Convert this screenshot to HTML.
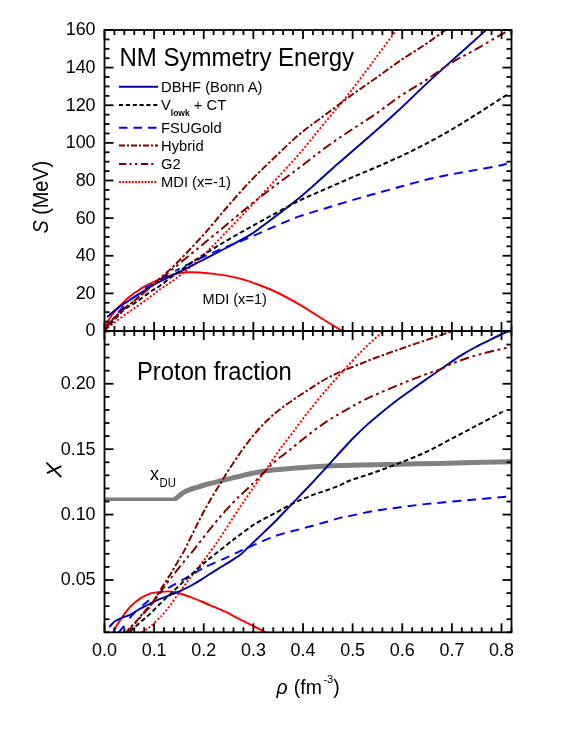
<!DOCTYPE html>
<html><head><meta charset="utf-8"><title>chart</title>
<style>
html,body{margin:0;padding:0;background:#fff;}
body{width:581px;height:753px;overflow:hidden;}
svg{display:block;}
text{font-family:"Liberation Sans",sans-serif;fill:#000;}
.tk{font-size:17.95px;}
.lg{font-size:14.75px;}
.ttl{font-size:24px;}
.ax{font-size:19px;}
</style></head><body>
<svg width="581" height="753" viewBox="0 0 581 753" style="will-change:transform;opacity:0.999">
<rect x="0" y="0" width="581" height="753" fill="#fff"/>
<defs>
<clipPath id="ct"><rect x="104.5" y="30" width="407" height="301"/></clipPath>
<clipPath id="cb"><rect x="104.5" y="331" width="407" height="301.3"/></clipPath>
</defs>
<g clip-path="url(#ct)">
<path d="M104.20 333.00 C104.27 332.45 104.02 331.53 104.60 329.70 C105.18 327.87 106.47 324.50 107.70 322.00 C108.93 319.50 110.18 317.20 112.00 314.70 C113.82 312.20 116.43 309.32 118.60 307.00 C120.77 304.68 122.93 302.70 125.00 300.80 C127.07 298.90 128.92 297.23 131.00 295.60 C133.08 293.97 135.43 292.40 137.50 291.00 C139.57 289.60 141.32 288.42 143.40 287.20 C145.48 285.98 147.23 285.05 150.00 283.70 C152.77 282.35 155.83 280.73 160.00 279.10 C164.17 277.47 170.50 275.03 175.00 273.90 C179.50 272.77 182.83 272.53 187.00 272.30 C191.17 272.07 195.83 272.28 200.00 272.50 C204.17 272.72 207.83 273.12 212.00 273.60 C216.17 274.08 220.33 274.57 225.00 275.40 C229.67 276.23 235.83 277.55 240.00 278.60 C244.17 279.65 244.17 279.55 250.00 281.70 C255.83 283.85 266.67 287.65 275.00 291.50 C283.33 295.35 291.67 299.97 300.00 304.80 C308.33 309.63 317.97 316.13 325.00 320.50 C332.03 324.87 338.03 328.42 342.20 331.00 C346.37 333.58 348.70 335.17 350.00 336.00" fill="none" stroke="#ff0000" stroke-width="1.95" stroke-linejoin="round"/>
<path d="M104.60 330.20 C105.83 329.25 108.60 327.08 112.00 324.50 C115.40 321.92 120.75 317.78 125.00 314.70 C129.25 311.62 133.33 308.95 137.50 306.00 C141.67 303.05 146.25 299.77 150.00 297.00 C153.75 294.23 155.83 292.37 160.00 289.40 C164.17 286.43 168.33 284.37 175.00 279.20 C181.67 274.03 191.67 266.03 200.00 258.40 C208.33 250.77 216.67 241.97 225.00 233.40 C233.33 224.83 241.67 215.82 250.00 207.00 C258.33 198.18 266.67 189.50 275.00 180.50 C283.33 171.50 291.67 162.67 300.00 153.00 C308.33 143.33 316.67 132.62 325.00 122.50 C333.33 112.38 341.67 102.90 350.00 92.30 C358.33 81.70 367.27 69.28 375.00 58.90 C382.73 48.52 391.57 36.48 396.40 30.00 C401.23 23.52 402.73 21.67 404.00 20.00" fill="none" stroke="#ff0000" stroke-width="1.95" stroke-dasharray="2.1 1.9" stroke-linejoin="round"/>
<path d="M107.00 317.10 C107.83 316.37 110.07 314.30 112.00 312.70 C113.93 311.10 116.43 309.10 118.60 307.50 C120.77 305.90 122.93 304.48 125.00 303.10 C127.07 301.72 128.92 300.53 131.00 299.20 C133.08 297.87 135.43 296.42 137.50 295.10 C139.57 293.78 141.32 292.68 143.40 291.30 C145.48 289.92 147.23 288.43 150.00 286.80 C152.77 285.17 155.83 283.62 160.00 281.50 C164.17 279.38 168.33 277.43 175.00 274.10 C181.67 270.77 191.67 265.77 200.00 261.50 C208.33 257.23 216.67 252.95 225.00 248.50 C233.33 244.05 243.75 238.55 250.00 234.80 C256.25 231.05 258.33 229.03 262.50 226.00 C266.67 222.97 270.83 219.73 275.00 216.60 C279.17 213.47 283.33 210.43 287.50 207.20 C291.67 203.97 295.83 200.67 300.00 197.20 C304.17 193.73 308.33 190.07 312.50 186.40 C316.67 182.73 320.83 178.93 325.00 175.20 C329.17 171.47 333.33 167.65 337.50 164.00 C341.67 160.35 343.75 158.70 350.00 153.30 C356.25 147.90 366.67 138.98 375.00 131.60 C383.33 124.22 391.67 116.75 400.00 109.00 C408.33 101.25 416.67 92.87 425.00 85.10 C433.33 77.33 441.67 69.92 450.00 62.40 C458.33 54.88 469.00 45.40 475.00 40.00 C481.00 34.60 482.33 33.33 486.00 30.00 C489.67 26.67 495.17 21.67 497.00 20.00" fill="none" stroke="#0000a0" stroke-width="1.95" stroke-linejoin="round"/>
<path d="M105.20 327.60 C106.05 326.75 108.58 324.47 110.30 322.50 C112.02 320.53 113.52 318.22 115.50 315.80 C117.48 313.38 119.88 310.58 122.20 308.00 C124.52 305.42 127.17 302.28 129.40 300.30 C131.63 298.32 133.10 298.00 135.60 296.10 C138.10 294.20 141.73 290.78 144.40 288.90 C147.07 287.02 146.50 287.78 151.60 284.80 C156.70 281.82 171.10 273.30 175.00 271.00" fill="none" stroke="#0000ff" stroke-width="1.95" stroke-dasharray="8.5 9.5" stroke-dashoffset="-1.9" stroke-linejoin="round"/>
<path d="M506.90 163.50 C505.75 163.83 505.32 164.40 500.00 165.50 C494.68 166.60 483.33 168.58 475.00 170.10 C466.67 171.62 458.33 172.95 450.00 174.60 C441.67 176.25 433.33 177.97 425.00 180.00 C416.67 182.03 408.33 184.52 400.00 186.80 C391.67 189.08 383.33 191.37 375.00 193.70 C366.67 196.03 358.33 198.33 350.00 200.80 C341.67 203.27 333.33 205.93 325.00 208.50 C316.67 211.07 308.33 213.23 300.00 216.20 C291.67 219.17 283.33 222.78 275.00 226.30 C266.67 229.82 258.33 233.77 250.00 237.30 C241.67 240.83 233.33 244.00 225.00 247.50 C216.67 251.00 208.33 254.38 200.00 258.30 C191.67 262.22 179.17 268.88 175.00 271.00" fill="none" stroke="#0000ff" stroke-width="1.95" stroke-dasharray="9 6" stroke-linejoin="round"/>
<path d="M506.90 94.80 C505.75 95.53 505.32 95.80 500.00 99.20 C494.68 102.60 483.33 109.98 475.00 115.20 C466.67 120.42 458.33 125.65 450.00 130.50 C441.67 135.35 433.33 139.95 425.00 144.30 C416.67 148.65 408.33 152.70 400.00 156.60 C391.67 160.50 383.33 164.08 375.00 167.70 C366.67 171.32 358.33 174.72 350.00 178.30 C341.67 181.88 333.33 185.53 325.00 189.20 C316.67 192.87 308.33 196.23 300.00 200.30 C291.67 204.37 283.33 209.10 275.00 213.60 C266.67 218.10 258.33 222.63 250.00 227.30 C241.67 231.97 233.33 236.65 225.00 241.60 C216.67 246.55 208.33 251.55 200.00 257.00 C191.67 262.45 181.67 269.50 175.00 274.30 C168.33 279.10 164.17 282.85 160.00 285.80 C155.83 288.75 153.75 289.42 150.00 292.00 C146.25 294.58 141.67 298.47 137.50 301.30 C133.33 304.13 128.15 306.63 125.00 309.00 C121.85 311.37 120.77 313.25 118.60 315.50 C116.43 317.75 114.18 320.17 112.00 322.50 C109.82 324.83 106.58 328.33 105.50 329.50" fill="none" stroke="#000" stroke-width="1.95" stroke-dasharray="4.8 2.8" stroke-linejoin="round"/>
<path d="M104.50 331.00 C105.75 329.23 109.65 323.28 112.00 320.40 C114.35 317.52 116.43 315.77 118.60 313.70 C120.77 311.63 122.93 309.72 125.00 308.00 C127.07 306.28 128.92 305.03 131.00 303.40 C133.08 301.77 135.43 299.93 137.50 298.20 C139.57 296.47 141.32 294.83 143.40 293.00 C145.48 291.17 147.60 289.35 150.00 287.20 C152.40 285.05 153.63 283.83 157.80 280.10 C161.97 276.37 168.18 271.48 175.00 264.80 C181.82 258.12 192.53 246.63 198.70 240.00 C204.87 233.37 207.62 230.08 212.00 225.00 C216.38 219.92 218.67 216.75 225.00 209.50 C231.33 202.25 241.67 190.25 250.00 181.50 C258.33 172.75 266.67 164.95 275.00 157.00 C283.33 149.05 291.67 140.80 300.00 133.80 C308.33 126.80 316.67 121.25 325.00 115.00 C333.33 108.75 341.67 102.35 350.00 96.30 C358.33 90.25 366.67 84.62 375.00 78.70 C383.33 72.78 391.67 66.48 400.00 60.80 C408.33 55.12 417.40 49.73 425.00 44.60 C432.60 39.47 439.77 34.10 445.60 30.00 C451.43 25.90 457.60 21.67 460.00 20.00" fill="none" stroke="#800000" stroke-width="1.95" stroke-dasharray="7.2 2.2 2.5 2.2" stroke-linejoin="round"/>
<path d="M104.50 331.00 C105.75 329.23 109.65 323.28 112.00 320.40 C114.35 317.52 116.43 315.77 118.60 313.70 C120.77 311.63 122.93 309.72 125.00 308.00 C127.07 306.28 128.92 305.03 131.00 303.40 C133.08 301.77 135.43 299.90 137.50 298.20 C139.57 296.50 141.32 294.97 143.40 293.20 C145.48 291.43 147.23 289.88 150.00 287.60 C152.77 285.32 155.83 282.92 160.00 279.50 C164.17 276.08 168.33 272.57 175.00 267.10 C181.67 261.63 191.67 253.55 200.00 246.70 C208.33 239.85 216.67 232.90 225.00 226.00 C233.33 219.10 241.67 212.02 250.00 205.30 C258.33 198.58 266.67 192.05 275.00 185.70 C283.33 179.35 291.67 173.48 300.00 167.20 C308.33 160.92 316.67 154.07 325.00 148.00 C333.33 141.93 341.67 136.38 350.00 130.80 C358.33 125.22 366.67 120.25 375.00 114.50 C383.33 108.75 391.67 101.92 400.00 96.30 C408.33 90.68 416.67 86.25 425.00 80.80 C433.33 75.35 441.67 68.77 450.00 63.60 C458.33 58.43 466.67 54.53 475.00 49.80 C483.33 45.07 494.17 38.50 500.00 35.20 C505.83 31.90 506.67 31.70 510.00 30.00 C513.33 28.30 518.33 25.83 520.00 25.00" fill="none" stroke="#800000" stroke-width="1.95" stroke-dasharray="9.5 3.6 2.8 3.6 2.8 3.6" stroke-linejoin="round"/>
</g>
<g clip-path="url(#cb)">
<path d="M104.50 499.20 C116.33 499.20 163.67 499.20 175.50 499.20" fill="none" stroke="#808080" stroke-width="3.6" stroke-linejoin="round"/>
<path d="M174.30 499.60 C175.13 498.95 177.67 496.95 179.30 495.70 C180.93 494.45 182.32 493.12 184.10 492.10 C185.88 491.08 188.00 490.35 190.00 489.60 C192.00 488.85 193.07 488.53 196.10 487.60 C199.13 486.67 204.18 485.10 208.20 484.00 C212.22 482.90 216.57 481.90 220.20 481.00 C223.83 480.10 226.70 479.40 230.00 478.60 C233.30 477.80 236.40 477.05 240.00 476.20 C243.60 475.35 246.80 474.45 251.60 473.50 C256.40 472.55 260.73 471.45 268.80 470.50 C276.87 469.55 288.13 468.63 300.00 467.80 C311.87 466.97 323.33 466.10 340.00 465.50 C356.67 464.90 383.33 464.55 400.00 464.20 C416.67 463.85 421.42 463.83 440.00 463.40 C458.58 462.97 499.58 461.90 511.50 461.60" fill="none" stroke="#808080" stroke-width="5.0" stroke-linejoin="round"/>
<path d="M112.30 636.00 C112.40 635.50 112.37 634.38 112.90 633.00 C113.43 631.62 114.20 629.95 115.50 627.70 C116.80 625.45 118.98 622.08 120.70 619.50 C122.42 616.92 124.08 614.45 125.80 612.20 C127.52 609.95 129.28 607.80 131.00 606.00 C132.72 604.20 134.38 602.77 136.10 601.40 C137.82 600.03 139.57 598.83 141.30 597.80 C143.03 596.77 144.78 595.98 146.50 595.20 C148.22 594.42 149.30 593.63 151.60 593.10 C153.90 592.57 157.47 592.28 160.30 592.00 C163.13 591.72 166.02 591.37 168.60 591.40 C171.18 591.43 173.73 591.82 175.80 592.20 C177.87 592.58 178.42 592.85 181.00 593.70 C183.58 594.55 187.87 596.00 191.30 597.30 C194.73 598.60 198.45 600.15 201.60 601.50 C204.75 602.85 207.33 604.18 210.20 605.40 C213.07 606.62 215.92 607.58 218.80 608.80 C221.68 610.02 224.62 611.27 227.50 612.70 C230.38 614.13 233.23 615.90 236.10 617.40 C238.97 618.90 242.38 620.55 244.70 621.70 C247.02 622.85 246.48 622.50 250.00 624.30 C253.52 626.10 262.13 630.55 265.80 632.50 C269.47 634.45 270.97 635.42 272.00 636.00" fill="none" stroke="#ff0000" stroke-width="1.95" stroke-linejoin="round"/>
<path d="M138.50 634.30 C138.97 634.02 140.15 633.28 141.30 632.60 C142.45 631.92 144.13 631.00 145.40 630.20 C146.67 629.40 147.75 628.67 148.90 627.80 C150.05 626.93 150.45 626.73 152.30 625.00 C154.15 623.27 158.32 619.07 160.00 617.40 C161.68 615.73 160.62 617.13 162.40 615.00 C164.18 612.87 167.60 608.75 170.70 604.60 C173.80 600.45 177.57 594.75 181.00 590.10 C184.43 585.45 187.87 581.17 191.30 576.70 C194.73 572.23 198.85 566.92 201.60 563.30 C204.35 559.68 204.93 558.92 207.80 555.00 C210.67 551.08 213.75 547.30 218.80 539.80 C223.85 532.30 233.17 517.48 238.10 510.00 C243.03 502.52 244.96 499.92 248.40 494.90 C251.84 489.88 255.30 484.88 258.75 479.90 C262.20 474.92 265.66 469.98 269.10 465.00 C272.54 460.02 276.95 453.47 279.40 450.00 C281.85 446.53 281.62 447.07 283.80 444.20 C285.98 441.33 289.62 436.65 292.50 432.80 C295.38 428.95 297.93 425.27 301.10 421.10 C304.27 416.93 307.25 413.07 311.50 407.80 C315.75 402.53 321.22 395.77 326.60 389.50 C331.98 383.23 338.05 376.50 343.80 370.20 C349.55 363.90 355.90 356.98 361.10 351.70 C366.30 346.42 371.25 341.95 375.00 338.50 C378.75 335.05 381.10 333.25 383.60 331.00 C386.10 328.75 388.93 326.00 390.00 325.00" fill="none" stroke="#ff0000" stroke-width="1.95" stroke-dasharray="2.1 1.9" stroke-linejoin="round"/>
<path d="M109.30 627.20 C109.75 626.67 110.97 625.03 112.00 624.00 C113.03 622.97 114.05 621.93 115.50 621.00 C116.95 620.07 118.12 619.52 120.70 618.40 C123.28 617.28 128.43 615.50 131.00 614.30 C133.57 613.10 134.38 612.23 136.10 611.20 C137.82 610.17 139.57 609.05 141.30 608.10 C143.03 607.15 144.78 606.37 146.50 605.50 C148.22 604.63 149.30 604.00 151.60 602.90 C153.90 601.80 157.12 600.25 160.30 598.90 C163.48 597.55 167.25 596.18 170.70 594.80 C174.15 593.42 177.57 592.15 181.00 590.60 C184.43 589.05 187.87 587.38 191.30 585.50 C194.73 583.62 198.45 581.25 201.60 579.30 C204.75 577.35 207.33 575.63 210.20 573.80 C213.07 571.97 215.92 570.07 218.80 568.30 C221.68 566.53 224.72 564.92 227.50 563.20 C230.28 561.48 233.42 559.37 235.50 558.00 C237.58 556.63 237.58 557.07 240.00 555.00 C242.42 552.93 247.13 548.32 250.00 545.60 C252.87 542.88 253.13 542.58 257.20 538.70 C261.27 534.82 268.67 528.03 274.40 522.30 C280.13 516.57 285.33 510.85 291.60 504.30 C297.87 497.75 306.43 488.92 312.00 483.00 C317.57 477.08 319.98 474.30 325.00 468.80 C330.02 463.30 337.30 455.22 342.10 450.00 C346.90 444.78 349.57 441.77 353.80 437.50 C358.03 433.23 362.92 428.53 367.50 424.40 C372.08 420.27 376.70 416.48 381.30 412.70 C385.90 408.92 390.52 405.18 395.10 401.70 C399.68 398.22 403.82 395.40 408.80 391.80 C413.78 388.20 419.80 383.77 425.00 380.10 C430.20 376.43 435.20 373.13 440.00 369.80 C444.80 366.47 449.67 362.87 453.80 360.10 C457.93 357.33 461.13 355.38 464.80 353.20 C468.47 351.02 471.90 349.07 475.80 347.00 C479.70 344.93 483.83 342.97 488.20 340.80 C492.57 338.63 498.57 335.60 502.00 334.00 C505.43 332.40 506.47 332.20 508.80 331.20 C511.13 330.20 514.80 328.53 516.00 328.00" fill="none" stroke="#0000a0" stroke-width="1.95" stroke-linejoin="round"/>
<path d="M117.50 634.00 C117.68 633.73 117.47 633.78 118.60 632.40 C119.73 631.02 122.42 628.12 124.30 625.70 C126.18 623.28 127.93 620.32 129.90 617.90 C131.87 615.48 133.68 613.52 136.10 611.20 C138.52 608.88 141.82 606.15 144.40 604.00 C146.98 601.85 148.95 600.23 151.60 598.30 C154.25 596.37 158.85 593.38 160.30 592.40" fill="none" stroke="#0000ff" stroke-width="1.95" stroke-dasharray="8.5 9.5" stroke-dashoffset="-1.9" stroke-linejoin="round"/>
<path d="M506.10 496.80 C505.08 496.88 505.18 496.85 500.00 497.30 C494.82 497.75 483.33 498.75 475.00 499.50 C466.67 500.25 458.33 501.03 450.00 501.80 C441.67 502.57 433.33 503.18 425.00 504.10 C416.67 505.02 408.33 506.18 400.00 507.30 C391.67 508.42 383.33 509.37 375.00 510.80 C366.67 512.23 355.83 514.72 350.00 515.90 C344.17 517.08 344.17 516.83 340.00 517.90 C335.83 518.97 331.67 520.42 325.00 522.30 C318.33 524.18 308.33 526.90 300.00 529.20 C291.67 531.50 283.85 532.95 275.00 536.10 C266.15 539.25 252.82 545.57 246.90 548.10 C240.98 550.63 243.15 549.60 239.50 551.30 C235.85 553.00 229.92 556.05 225.00 558.30 C220.08 560.55 213.72 563.12 210.00 564.80 C206.28 566.48 205.13 567.10 202.70 568.40 C200.27 569.70 197.82 571.22 195.40 572.60 C192.98 573.98 190.60 575.33 188.20 576.70 C185.80 578.07 183.40 579.43 181.00 580.80 C178.60 582.17 176.22 583.52 173.80 584.90 C171.38 586.28 168.75 587.85 166.50 589.10 C164.25 590.35 161.33 591.85 160.30 592.40" fill="none" stroke="#0000ff" stroke-width="1.95" stroke-dasharray="9 6" stroke-linejoin="round"/>
<path d="M501.60 412.30 C501.33 412.45 504.43 410.85 500.00 413.20 C495.57 415.55 483.33 422.00 475.00 426.40 C466.67 430.80 458.33 435.25 450.00 439.60 C441.67 443.95 433.33 448.63 425.00 452.50 C416.67 456.37 408.33 459.52 400.00 462.80 C391.67 466.08 383.33 469.25 375.00 472.20 C366.67 475.15 355.83 478.32 350.00 480.50 C344.17 482.68 343.98 483.63 340.00 485.30 C336.02 486.97 329.85 489.18 326.10 490.50 C322.35 491.82 320.38 492.20 317.50 493.20 C314.62 494.20 311.72 495.33 308.80 496.50 C305.88 497.67 302.87 498.95 300.00 500.20 C297.13 501.45 295.87 501.80 291.60 504.00 C287.33 506.20 280.13 510.30 274.40 513.40 C268.67 516.50 261.27 520.28 257.20 522.60 C253.13 524.92 253.20 525.03 250.00 527.30 C246.80 529.57 241.75 533.37 238.00 536.20 C234.25 539.03 232.13 540.67 227.50 544.30 C222.87 547.93 214.52 554.50 210.20 558.00 C205.88 561.50 204.75 562.53 201.60 565.30 C198.45 568.07 194.73 571.50 191.30 574.60 C187.87 577.70 184.43 580.72 181.00 583.90 C177.57 587.08 174.15 590.43 170.70 593.70 C167.25 596.97 163.75 600.13 160.30 603.50 C156.85 606.87 153.17 610.90 150.00 613.90 C146.83 616.90 144.13 619.02 141.30 621.50 C138.47 623.98 135.38 626.63 133.00 628.80 C130.62 630.97 128.00 633.55 127.00 634.50" fill="none" stroke="#000" stroke-width="1.95" stroke-dasharray="4.8 2.8" stroke-linejoin="round"/>
<path d="M125.50 634.00 C125.82 633.47 125.63 632.88 127.40 630.80 C129.17 628.72 133.78 624.08 136.10 621.50 C138.42 618.92 139.57 617.37 141.30 615.30 C143.03 613.23 145.05 610.65 146.50 609.10 C147.95 607.55 148.55 607.82 150.00 606.00 C151.45 604.18 153.05 601.52 155.20 598.20 C157.35 594.88 160.90 589.25 162.90 586.10 C164.90 582.95 165.77 581.58 167.20 579.30 C168.63 577.02 170.07 574.77 171.50 572.40 C172.93 570.03 174.37 567.55 175.80 565.10 C177.23 562.65 178.67 560.15 180.10 557.70 C181.53 555.25 182.25 554.53 184.40 550.40 C186.55 546.27 190.13 538.68 193.00 532.90 C195.87 527.12 198.73 521.15 201.60 515.70 C204.47 510.25 207.03 505.65 210.20 500.20 C213.37 494.75 217.63 487.87 220.60 483.00 C223.57 478.13 225.48 474.92 228.00 471.00 C230.52 467.08 233.57 462.67 235.70 459.50 C237.83 456.33 238.52 455.20 240.80 452.00 C243.08 448.80 246.53 443.97 249.40 440.30 C252.27 436.63 255.13 433.22 258.00 430.00 C260.87 426.78 263.73 423.80 266.60 421.00 C269.47 418.20 272.33 415.62 275.20 413.20 C278.07 410.78 280.92 408.65 283.80 406.50 C286.68 404.35 289.62 402.30 292.50 400.30 C295.38 398.30 298.23 396.38 301.10 394.50 C303.97 392.62 306.88 390.82 309.70 389.00 C312.52 387.18 315.18 385.35 318.00 383.60 C320.82 381.85 323.77 380.05 326.60 378.50 C329.43 376.95 332.13 375.65 335.00 374.30 C337.87 372.95 339.45 372.20 343.80 370.40 C348.15 368.60 355.90 365.57 361.10 363.50 C366.30 361.43 368.52 360.40 375.00 358.00 C381.48 355.60 391.67 352.02 400.00 349.10 C408.33 346.18 418.33 342.80 425.00 340.50 C431.67 338.20 435.43 336.85 440.00 335.30 C444.57 333.75 448.23 332.58 452.40 331.20 C456.57 329.82 462.90 327.70 465.00 327.00" fill="none" stroke="#800000" stroke-width="1.95" stroke-dasharray="7.2 2.2 2.5 2.2" stroke-linejoin="round"/>
<path d="M127.00 634.00 C127.23 633.47 126.77 632.85 128.40 630.80 C130.03 628.75 134.53 624.23 136.80 621.70 C139.07 619.17 140.27 617.62 142.00 615.60 C143.73 613.58 145.87 611.07 147.20 609.60 C148.53 608.13 148.38 608.85 150.00 606.80 C151.62 604.75 154.90 600.10 156.90 597.30 C158.90 594.50 160.28 592.43 162.00 590.00 C163.72 587.57 165.62 584.78 167.20 582.70 C168.78 580.62 170.07 579.30 171.50 577.50 C172.93 575.70 174.37 573.75 175.80 571.90 C177.23 570.05 178.67 568.18 180.10 566.40 C181.53 564.62 182.97 562.93 184.40 561.20 C185.83 559.47 187.27 557.72 188.70 556.00 C190.13 554.28 190.85 553.60 193.00 550.90 C195.15 548.20 197.30 545.23 201.60 539.80 C205.90 534.37 213.05 525.03 218.80 518.30 C224.55 511.57 232.57 503.17 236.10 499.40 C239.63 495.63 237.68 497.87 240.00 495.70 C242.32 493.53 247.13 489.13 250.00 486.40 C252.87 483.67 254.07 482.47 257.20 479.30 C260.33 476.13 265.83 470.38 268.80 467.40 C271.77 464.42 272.12 463.83 275.00 461.40 C277.88 458.97 281.93 456.10 286.10 452.80 C290.27 449.50 293.52 446.63 300.00 441.60 C306.48 436.57 316.75 428.20 325.00 422.60 C333.25 417.00 343.48 411.50 349.50 408.00 C355.52 404.50 356.85 403.77 361.10 401.60 C365.35 399.43 368.52 397.88 375.00 395.00 C381.48 392.12 391.67 387.70 400.00 384.30 C408.33 380.90 418.33 377.08 425.00 374.60 C431.67 372.12 435.20 371.35 440.00 369.40 C444.80 367.45 449.22 364.80 453.80 362.90 C458.38 361.00 462.92 359.50 467.50 358.00 C472.08 356.50 476.70 355.15 481.30 353.90 C485.90 352.65 490.05 351.68 495.10 350.50 C500.15 349.32 508.85 347.42 511.60 346.80" fill="none" stroke="#800000" stroke-width="1.95" stroke-dasharray="9.5 3.6 2.8 3.6 2.8 3.6" stroke-linejoin="round"/>
</g>
<g stroke="#000" stroke-width="1.8" fill="none" stroke-linecap="butt">
<line x1="104.50" y1="30.00" x2="104.50" y2="39.00"/>
<line x1="104.50" y1="322.00" x2="104.50" y2="340.00"/>
<line x1="104.50" y1="632.30" x2="104.50" y2="623.30"/>
<line x1="114.42" y1="30.00" x2="114.42" y2="35.00"/>
<line x1="114.42" y1="326.00" x2="114.42" y2="336.00"/>
<line x1="114.42" y1="632.30" x2="114.42" y2="627.30"/>
<line x1="124.35" y1="30.00" x2="124.35" y2="35.00"/>
<line x1="124.35" y1="326.00" x2="124.35" y2="336.00"/>
<line x1="124.35" y1="632.30" x2="124.35" y2="627.30"/>
<line x1="134.28" y1="30.00" x2="134.28" y2="35.00"/>
<line x1="134.28" y1="326.00" x2="134.28" y2="336.00"/>
<line x1="134.28" y1="632.30" x2="134.28" y2="627.30"/>
<line x1="144.20" y1="30.00" x2="144.20" y2="35.00"/>
<line x1="144.20" y1="326.00" x2="144.20" y2="336.00"/>
<line x1="144.20" y1="632.30" x2="144.20" y2="627.30"/>
<line x1="154.12" y1="30.00" x2="154.12" y2="39.00"/>
<line x1="154.12" y1="322.00" x2="154.12" y2="340.00"/>
<line x1="154.12" y1="632.30" x2="154.12" y2="623.30"/>
<line x1="164.05" y1="30.00" x2="164.05" y2="35.00"/>
<line x1="164.05" y1="326.00" x2="164.05" y2="336.00"/>
<line x1="164.05" y1="632.30" x2="164.05" y2="627.30"/>
<line x1="173.98" y1="30.00" x2="173.98" y2="35.00"/>
<line x1="173.98" y1="326.00" x2="173.98" y2="336.00"/>
<line x1="173.98" y1="632.30" x2="173.98" y2="627.30"/>
<line x1="183.90" y1="30.00" x2="183.90" y2="35.00"/>
<line x1="183.90" y1="326.00" x2="183.90" y2="336.00"/>
<line x1="183.90" y1="632.30" x2="183.90" y2="627.30"/>
<line x1="193.82" y1="30.00" x2="193.82" y2="35.00"/>
<line x1="193.82" y1="326.00" x2="193.82" y2="336.00"/>
<line x1="193.82" y1="632.30" x2="193.82" y2="627.30"/>
<line x1="203.75" y1="30.00" x2="203.75" y2="39.00"/>
<line x1="203.75" y1="322.00" x2="203.75" y2="340.00"/>
<line x1="203.75" y1="632.30" x2="203.75" y2="623.30"/>
<line x1="213.68" y1="30.00" x2="213.68" y2="35.00"/>
<line x1="213.68" y1="326.00" x2="213.68" y2="336.00"/>
<line x1="213.68" y1="632.30" x2="213.68" y2="627.30"/>
<line x1="223.60" y1="30.00" x2="223.60" y2="35.00"/>
<line x1="223.60" y1="326.00" x2="223.60" y2="336.00"/>
<line x1="223.60" y1="632.30" x2="223.60" y2="627.30"/>
<line x1="233.53" y1="30.00" x2="233.53" y2="35.00"/>
<line x1="233.53" y1="326.00" x2="233.53" y2="336.00"/>
<line x1="233.53" y1="632.30" x2="233.53" y2="627.30"/>
<line x1="243.45" y1="30.00" x2="243.45" y2="35.00"/>
<line x1="243.45" y1="326.00" x2="243.45" y2="336.00"/>
<line x1="243.45" y1="632.30" x2="243.45" y2="627.30"/>
<line x1="253.38" y1="30.00" x2="253.38" y2="39.00"/>
<line x1="253.38" y1="322.00" x2="253.38" y2="340.00"/>
<line x1="253.38" y1="632.30" x2="253.38" y2="623.30"/>
<line x1="263.30" y1="30.00" x2="263.30" y2="35.00"/>
<line x1="263.30" y1="326.00" x2="263.30" y2="336.00"/>
<line x1="263.30" y1="632.30" x2="263.30" y2="627.30"/>
<line x1="273.23" y1="30.00" x2="273.23" y2="35.00"/>
<line x1="273.23" y1="326.00" x2="273.23" y2="336.00"/>
<line x1="273.23" y1="632.30" x2="273.23" y2="627.30"/>
<line x1="283.15" y1="30.00" x2="283.15" y2="35.00"/>
<line x1="283.15" y1="326.00" x2="283.15" y2="336.00"/>
<line x1="283.15" y1="632.30" x2="283.15" y2="627.30"/>
<line x1="293.07" y1="30.00" x2="293.07" y2="35.00"/>
<line x1="293.07" y1="326.00" x2="293.07" y2="336.00"/>
<line x1="293.07" y1="632.30" x2="293.07" y2="627.30"/>
<line x1="303.00" y1="30.00" x2="303.00" y2="39.00"/>
<line x1="303.00" y1="322.00" x2="303.00" y2="340.00"/>
<line x1="303.00" y1="632.30" x2="303.00" y2="623.30"/>
<line x1="312.92" y1="30.00" x2="312.92" y2="35.00"/>
<line x1="312.92" y1="326.00" x2="312.92" y2="336.00"/>
<line x1="312.92" y1="632.30" x2="312.92" y2="627.30"/>
<line x1="322.85" y1="30.00" x2="322.85" y2="35.00"/>
<line x1="322.85" y1="326.00" x2="322.85" y2="336.00"/>
<line x1="322.85" y1="632.30" x2="322.85" y2="627.30"/>
<line x1="332.77" y1="30.00" x2="332.77" y2="35.00"/>
<line x1="332.77" y1="326.00" x2="332.77" y2="336.00"/>
<line x1="332.77" y1="632.30" x2="332.77" y2="627.30"/>
<line x1="342.70" y1="30.00" x2="342.70" y2="35.00"/>
<line x1="342.70" y1="326.00" x2="342.70" y2="336.00"/>
<line x1="342.70" y1="632.30" x2="342.70" y2="627.30"/>
<line x1="352.62" y1="30.00" x2="352.62" y2="39.00"/>
<line x1="352.62" y1="322.00" x2="352.62" y2="340.00"/>
<line x1="352.62" y1="632.30" x2="352.62" y2="623.30"/>
<line x1="362.55" y1="30.00" x2="362.55" y2="35.00"/>
<line x1="362.55" y1="326.00" x2="362.55" y2="336.00"/>
<line x1="362.55" y1="632.30" x2="362.55" y2="627.30"/>
<line x1="372.48" y1="30.00" x2="372.48" y2="35.00"/>
<line x1="372.48" y1="326.00" x2="372.48" y2="336.00"/>
<line x1="372.48" y1="632.30" x2="372.48" y2="627.30"/>
<line x1="382.40" y1="30.00" x2="382.40" y2="35.00"/>
<line x1="382.40" y1="326.00" x2="382.40" y2="336.00"/>
<line x1="382.40" y1="632.30" x2="382.40" y2="627.30"/>
<line x1="392.32" y1="30.00" x2="392.32" y2="35.00"/>
<line x1="392.32" y1="326.00" x2="392.32" y2="336.00"/>
<line x1="392.32" y1="632.30" x2="392.32" y2="627.30"/>
<line x1="402.25" y1="30.00" x2="402.25" y2="39.00"/>
<line x1="402.25" y1="322.00" x2="402.25" y2="340.00"/>
<line x1="402.25" y1="632.30" x2="402.25" y2="623.30"/>
<line x1="412.18" y1="30.00" x2="412.18" y2="35.00"/>
<line x1="412.18" y1="326.00" x2="412.18" y2="336.00"/>
<line x1="412.18" y1="632.30" x2="412.18" y2="627.30"/>
<line x1="422.10" y1="30.00" x2="422.10" y2="35.00"/>
<line x1="422.10" y1="326.00" x2="422.10" y2="336.00"/>
<line x1="422.10" y1="632.30" x2="422.10" y2="627.30"/>
<line x1="432.03" y1="30.00" x2="432.03" y2="35.00"/>
<line x1="432.03" y1="326.00" x2="432.03" y2="336.00"/>
<line x1="432.03" y1="632.30" x2="432.03" y2="627.30"/>
<line x1="441.95" y1="30.00" x2="441.95" y2="35.00"/>
<line x1="441.95" y1="326.00" x2="441.95" y2="336.00"/>
<line x1="441.95" y1="632.30" x2="441.95" y2="627.30"/>
<line x1="451.88" y1="30.00" x2="451.88" y2="39.00"/>
<line x1="451.88" y1="322.00" x2="451.88" y2="340.00"/>
<line x1="451.88" y1="632.30" x2="451.88" y2="623.30"/>
<line x1="461.80" y1="30.00" x2="461.80" y2="35.00"/>
<line x1="461.80" y1="326.00" x2="461.80" y2="336.00"/>
<line x1="461.80" y1="632.30" x2="461.80" y2="627.30"/>
<line x1="471.73" y1="30.00" x2="471.73" y2="35.00"/>
<line x1="471.73" y1="326.00" x2="471.73" y2="336.00"/>
<line x1="471.73" y1="632.30" x2="471.73" y2="627.30"/>
<line x1="481.65" y1="30.00" x2="481.65" y2="35.00"/>
<line x1="481.65" y1="326.00" x2="481.65" y2="336.00"/>
<line x1="481.65" y1="632.30" x2="481.65" y2="627.30"/>
<line x1="491.57" y1="30.00" x2="491.57" y2="35.00"/>
<line x1="491.57" y1="326.00" x2="491.57" y2="336.00"/>
<line x1="491.57" y1="632.30" x2="491.57" y2="627.30"/>
<line x1="501.50" y1="30.00" x2="501.50" y2="39.00"/>
<line x1="501.50" y1="322.00" x2="501.50" y2="340.00"/>
<line x1="501.50" y1="632.30" x2="501.50" y2="623.30"/>
<line x1="511.43" y1="30.00" x2="511.43" y2="35.00"/>
<line x1="511.43" y1="326.00" x2="511.43" y2="336.00"/>
<line x1="511.43" y1="632.30" x2="511.43" y2="627.30"/>
<line x1="104.50" y1="331.00" x2="113.50" y2="331.00"/>
<line x1="511.50" y1="331.00" x2="502.50" y2="331.00"/>
<line x1="104.50" y1="321.59" x2="109.50" y2="321.59"/>
<line x1="511.50" y1="321.59" x2="506.50" y2="321.59"/>
<line x1="104.50" y1="312.19" x2="109.50" y2="312.19"/>
<line x1="511.50" y1="312.19" x2="506.50" y2="312.19"/>
<line x1="104.50" y1="302.78" x2="109.50" y2="302.78"/>
<line x1="511.50" y1="302.78" x2="506.50" y2="302.78"/>
<line x1="104.50" y1="293.38" x2="113.50" y2="293.38"/>
<line x1="511.50" y1="293.38" x2="502.50" y2="293.38"/>
<line x1="104.50" y1="283.97" x2="109.50" y2="283.97"/>
<line x1="511.50" y1="283.97" x2="506.50" y2="283.97"/>
<line x1="104.50" y1="274.56" x2="109.50" y2="274.56"/>
<line x1="511.50" y1="274.56" x2="506.50" y2="274.56"/>
<line x1="104.50" y1="265.16" x2="109.50" y2="265.16"/>
<line x1="511.50" y1="265.16" x2="506.50" y2="265.16"/>
<line x1="104.50" y1="255.75" x2="113.50" y2="255.75"/>
<line x1="511.50" y1="255.75" x2="502.50" y2="255.75"/>
<line x1="104.50" y1="246.34" x2="109.50" y2="246.34"/>
<line x1="511.50" y1="246.34" x2="506.50" y2="246.34"/>
<line x1="104.50" y1="236.94" x2="109.50" y2="236.94"/>
<line x1="511.50" y1="236.94" x2="506.50" y2="236.94"/>
<line x1="104.50" y1="227.53" x2="109.50" y2="227.53"/>
<line x1="511.50" y1="227.53" x2="506.50" y2="227.53"/>
<line x1="104.50" y1="218.12" x2="113.50" y2="218.12"/>
<line x1="511.50" y1="218.12" x2="502.50" y2="218.12"/>
<line x1="104.50" y1="208.72" x2="109.50" y2="208.72"/>
<line x1="511.50" y1="208.72" x2="506.50" y2="208.72"/>
<line x1="104.50" y1="199.31" x2="109.50" y2="199.31"/>
<line x1="511.50" y1="199.31" x2="506.50" y2="199.31"/>
<line x1="104.50" y1="189.91" x2="109.50" y2="189.91"/>
<line x1="511.50" y1="189.91" x2="506.50" y2="189.91"/>
<line x1="104.50" y1="180.50" x2="113.50" y2="180.50"/>
<line x1="511.50" y1="180.50" x2="502.50" y2="180.50"/>
<line x1="104.50" y1="171.09" x2="109.50" y2="171.09"/>
<line x1="511.50" y1="171.09" x2="506.50" y2="171.09"/>
<line x1="104.50" y1="161.69" x2="109.50" y2="161.69"/>
<line x1="511.50" y1="161.69" x2="506.50" y2="161.69"/>
<line x1="104.50" y1="152.28" x2="109.50" y2="152.28"/>
<line x1="511.50" y1="152.28" x2="506.50" y2="152.28"/>
<line x1="104.50" y1="142.88" x2="113.50" y2="142.88"/>
<line x1="511.50" y1="142.88" x2="502.50" y2="142.88"/>
<line x1="104.50" y1="133.47" x2="109.50" y2="133.47"/>
<line x1="511.50" y1="133.47" x2="506.50" y2="133.47"/>
<line x1="104.50" y1="124.06" x2="109.50" y2="124.06"/>
<line x1="511.50" y1="124.06" x2="506.50" y2="124.06"/>
<line x1="104.50" y1="114.66" x2="109.50" y2="114.66"/>
<line x1="511.50" y1="114.66" x2="506.50" y2="114.66"/>
<line x1="104.50" y1="105.25" x2="113.50" y2="105.25"/>
<line x1="511.50" y1="105.25" x2="502.50" y2="105.25"/>
<line x1="104.50" y1="95.84" x2="109.50" y2="95.84"/>
<line x1="511.50" y1="95.84" x2="506.50" y2="95.84"/>
<line x1="104.50" y1="86.44" x2="109.50" y2="86.44"/>
<line x1="511.50" y1="86.44" x2="506.50" y2="86.44"/>
<line x1="104.50" y1="77.03" x2="109.50" y2="77.03"/>
<line x1="511.50" y1="77.03" x2="506.50" y2="77.03"/>
<line x1="104.50" y1="67.62" x2="113.50" y2="67.62"/>
<line x1="511.50" y1="67.62" x2="502.50" y2="67.62"/>
<line x1="104.50" y1="58.22" x2="109.50" y2="58.22"/>
<line x1="511.50" y1="58.22" x2="506.50" y2="58.22"/>
<line x1="104.50" y1="48.81" x2="109.50" y2="48.81"/>
<line x1="511.50" y1="48.81" x2="506.50" y2="48.81"/>
<line x1="104.50" y1="39.41" x2="109.50" y2="39.41"/>
<line x1="511.50" y1="39.41" x2="506.50" y2="39.41"/>
<line x1="104.50" y1="30.00" x2="113.50" y2="30.00"/>
<line x1="511.50" y1="30.00" x2="502.50" y2="30.00"/>
<line x1="104.50" y1="632.30" x2="109.50" y2="632.30"/>
<line x1="511.50" y1="632.30" x2="506.50" y2="632.30"/>
<line x1="104.50" y1="619.22" x2="109.50" y2="619.22"/>
<line x1="511.50" y1="619.22" x2="506.50" y2="619.22"/>
<line x1="104.50" y1="606.14" x2="109.50" y2="606.14"/>
<line x1="511.50" y1="606.14" x2="506.50" y2="606.14"/>
<line x1="104.50" y1="593.06" x2="109.50" y2="593.06"/>
<line x1="511.50" y1="593.06" x2="506.50" y2="593.06"/>
<line x1="104.50" y1="579.98" x2="113.50" y2="579.98"/>
<line x1="511.50" y1="579.98" x2="502.50" y2="579.98"/>
<line x1="104.50" y1="566.90" x2="109.50" y2="566.90"/>
<line x1="511.50" y1="566.90" x2="506.50" y2="566.90"/>
<line x1="104.50" y1="553.82" x2="109.50" y2="553.82"/>
<line x1="511.50" y1="553.82" x2="506.50" y2="553.82"/>
<line x1="104.50" y1="540.74" x2="109.50" y2="540.74"/>
<line x1="511.50" y1="540.74" x2="506.50" y2="540.74"/>
<line x1="104.50" y1="527.66" x2="109.50" y2="527.66"/>
<line x1="511.50" y1="527.66" x2="506.50" y2="527.66"/>
<line x1="104.50" y1="514.58" x2="113.50" y2="514.58"/>
<line x1="511.50" y1="514.58" x2="502.50" y2="514.58"/>
<line x1="104.50" y1="501.50" x2="109.50" y2="501.50"/>
<line x1="511.50" y1="501.50" x2="506.50" y2="501.50"/>
<line x1="104.50" y1="488.42" x2="109.50" y2="488.42"/>
<line x1="511.50" y1="488.42" x2="506.50" y2="488.42"/>
<line x1="104.50" y1="475.34" x2="109.50" y2="475.34"/>
<line x1="511.50" y1="475.34" x2="506.50" y2="475.34"/>
<line x1="104.50" y1="462.26" x2="109.50" y2="462.26"/>
<line x1="511.50" y1="462.26" x2="506.50" y2="462.26"/>
<line x1="104.50" y1="449.18" x2="113.50" y2="449.18"/>
<line x1="511.50" y1="449.18" x2="502.50" y2="449.18"/>
<line x1="104.50" y1="436.10" x2="109.50" y2="436.10"/>
<line x1="511.50" y1="436.10" x2="506.50" y2="436.10"/>
<line x1="104.50" y1="423.02" x2="109.50" y2="423.02"/>
<line x1="511.50" y1="423.02" x2="506.50" y2="423.02"/>
<line x1="104.50" y1="409.94" x2="109.50" y2="409.94"/>
<line x1="511.50" y1="409.94" x2="506.50" y2="409.94"/>
<line x1="104.50" y1="396.86" x2="109.50" y2="396.86"/>
<line x1="511.50" y1="396.86" x2="506.50" y2="396.86"/>
<line x1="104.50" y1="383.78" x2="113.50" y2="383.78"/>
<line x1="511.50" y1="383.78" x2="502.50" y2="383.78"/>
<line x1="104.50" y1="370.70" x2="109.50" y2="370.70"/>
<line x1="511.50" y1="370.70" x2="506.50" y2="370.70"/>
<line x1="104.50" y1="357.62" x2="109.50" y2="357.62"/>
<line x1="511.50" y1="357.62" x2="506.50" y2="357.62"/>
<line x1="104.50" y1="344.54" x2="109.50" y2="344.54"/>
<line x1="511.50" y1="344.54" x2="506.50" y2="344.54"/>
<line x1="104.50" y1="331.46" x2="109.50" y2="331.46"/>
<line x1="511.50" y1="331.46" x2="506.50" y2="331.46"/>
<rect x="104.5" y="30" width="407" height="602.3"/>
<line x1="104.5" y1="331" x2="511.5" y2="331"/>
</g>
<g transform="translate(95.6 336.45) scale(1 1.06)"><text x="0" y="0" text-anchor="end" class="tk">0</text></g>
<g transform="translate(95.6 298.82) scale(1 1.06)"><text x="0" y="0" text-anchor="end" class="tk">20</text></g>
<g transform="translate(95.6 261.20) scale(1 1.06)"><text x="0" y="0" text-anchor="end" class="tk">40</text></g>
<g transform="translate(95.6 223.57) scale(1 1.06)"><text x="0" y="0" text-anchor="end" class="tk">60</text></g>
<g transform="translate(95.6 185.95) scale(1 1.06)"><text x="0" y="0" text-anchor="end" class="tk">80</text></g>
<g transform="translate(95.6 148.32) scale(1 1.06)"><text x="0" y="0" text-anchor="end" class="tk">100</text></g>
<g transform="translate(95.6 110.70) scale(1 1.06)"><text x="0" y="0" text-anchor="end" class="tk">120</text></g>
<g transform="translate(95.6 73.08) scale(1 1.06)"><text x="0" y="0" text-anchor="end" class="tk">140</text></g>
<g transform="translate(95.6 35.45) scale(1 1.06)"><text x="0" y="0" text-anchor="end" class="tk">160</text></g>
<g transform="translate(95.6 585.43) scale(1 1.06)"><text x="0" y="0" text-anchor="end" class="tk">0.05</text></g>
<g transform="translate(95.6 520.03) scale(1 1.06)"><text x="0" y="0" text-anchor="end" class="tk">0.10</text></g>
<g transform="translate(95.6 454.63) scale(1 1.06)"><text x="0" y="0" text-anchor="end" class="tk">0.15</text></g>
<g transform="translate(95.6 389.23) scale(1 1.06)"><text x="0" y="0" text-anchor="end" class="tk">0.20</text></g>
<g transform="translate(104.50 655.70) scale(1 1.06)"><text x="0" y="0" text-anchor="middle" class="tk">0.0</text></g>
<g transform="translate(154.12 655.70) scale(1 1.06)"><text x="0" y="0" text-anchor="middle" class="tk">0.1</text></g>
<g transform="translate(203.75 655.70) scale(1 1.06)"><text x="0" y="0" text-anchor="middle" class="tk">0.2</text></g>
<g transform="translate(253.38 655.70) scale(1 1.06)"><text x="0" y="0" text-anchor="middle" class="tk">0.3</text></g>
<g transform="translate(303.00 655.70) scale(1 1.06)"><text x="0" y="0" text-anchor="middle" class="tk">0.4</text></g>
<g transform="translate(352.62 655.70) scale(1 1.06)"><text x="0" y="0" text-anchor="middle" class="tk">0.5</text></g>
<g transform="translate(402.25 655.70) scale(1 1.06)"><text x="0" y="0" text-anchor="middle" class="tk">0.6</text></g>
<g transform="translate(451.88 655.70) scale(1 1.06)"><text x="0" y="0" text-anchor="middle" class="tk">0.7</text></g>
<g transform="translate(501.50 655.70) scale(1 1.06)"><text x="0" y="0" text-anchor="middle" class="tk">0.8</text></g>

<g stroke-width="2" fill="none">
<line x1="119" y1="86.8" x2="158" y2="86.8" stroke="#0000a0"/>
<line x1="119" y1="105" x2="157.3" y2="105" stroke="#000" stroke-dasharray="4.1 2.75"/>
<line x1="119" y1="127.8" x2="157" y2="127.8" stroke="#0000ff" stroke-dasharray="8.5 6"/>
<line x1="119" y1="145.6" x2="158" y2="145.6" stroke="#800000" stroke-dasharray="6.2 1.8 2 2"/>
<line x1="119" y1="163.9" x2="155.6" y2="163.9" stroke="#800000" stroke-dasharray="7.4 3 2.2 3.4 2.2 3.6"/>
<line x1="119" y1="182.1" x2="157.5" y2="182.1" stroke="#ff0000" stroke-dasharray="2 1.2"/>
</g>
<g transform="translate(119.5 66.3) scale(1 1.065)"><text x="0" y="0" class="ttl">NM Symmetry Energy</text></g>
<g transform="translate(161 92) scale(1 1.04)"><text x="0" y="0" class="lg">DBHF (Bonn A)</text></g>
<g transform="translate(161 110.3) scale(1 1.04)"><text x="0" y="0" class="lg">V<tspan dy="5" font-size="8.5" font-weight="bold">lowk</tspan><tspan dy="-5"> + CT</tspan></text></g>
<g transform="translate(161 133) scale(1 1.04)"><text x="0" y="0" class="lg">FSUGold</text></g>
<g transform="translate(161 151) scale(1 1.04)"><text x="0" y="0" class="lg">Hybrid</text></g>
<g transform="translate(161 169) scale(1 1.04)"><text x="0" y="0" class="lg">G2</text></g>
<g transform="translate(161 187.3) scale(1 1.04)"><text x="0" y="0" class="lg">MDI (x=-1)</text></g>
<g transform="translate(202.6 304.1) scale(1 1.04)"><text x="0" y="0" class="lg" style="font-size:14.55px">MDI (x=1)</text></g>
<g transform="translate(137 380.2) scale(1 1.065)"><text x="0" y="0" class="ttl" style="font-size:23.8px">Proton fraction</text></g>
<g transform="translate(150 480) scale(1 1.05)"><text x="0" y="0" style="font-size:18px">x<tspan dy="7" dx="0.6" font-size="11.3">DU</tspan></text></g>
<text transform="translate(47.6,233.6) rotate(-90) scale(1,1.09)" style="font-size:19.85px"><tspan font-style="italic">S</tspan> (MeV)</text>
<g stroke="#000" stroke-width="1.8" fill="none"><line x1="46.45" y1="462.7" x2="61.4" y2="477.2"/><line x1="46.97" y1="473.07" x2="61.4" y2="466.1"/></g>
<g transform="translate(276.5 693.5) scale(1 1.06)"><text x="0" y="0" class="ax" style="font-size:19.4px"><tspan font-style="italic">&#961;</tspan><tspan dx="0.8"> (fm</tspan><tspan dy="-10.0" dx="1.6" font-size="11">-3</tspan><tspan dy="10.0">)</tspan></text></g>
</svg>
</body></html>
